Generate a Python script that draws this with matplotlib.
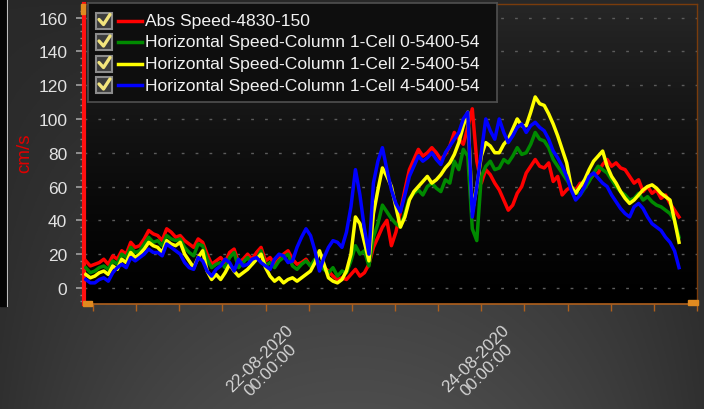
import numpy as np
import matplotlib
matplotlib.use("Agg")
import matplotlib.pyplot as plt
import matplotlib.dates as mdates
from matplotlib.patches import Rectangle

plt.rcParams['font.family'] = ['Liberation Sans', 'DejaVu Sans']

# hourly samples, 20-08-2020 08:00 .. 25-08-2020 20:00
times = np.datetime64('2020-08-20T08:00') + np.arange(133) * np.timedelta64(1, 'h')

abs_speed = [16, 13, 14, 15, 17, 14, 19, 17, 22, 20, 27, 24, 25, 29, 34, 32, 31, 28, 35, 33, 30, 31, 28, 26, 24, 29,
             27, 20, 14, 16, 18, 15, 21, 23, 15, 17, 20, 17, 21, 24, 16, 18, 14, 17, 20, 22, 17, 14,
             15, 17, 13, 16, 15, 12, 10, 7, 5, 6, 5, 8, 11, 7, 9, 14, 24, 30, 36, 40,
             25, 33, 45, 58, 70, 76, 82, 78, 80, 83, 80, 76, 79, 84, 92, 88, 85, 95, 106, 75,
             62, 70, 67, 62, 58, 52, 46, 49, 56, 60, 68, 72, 76, 72, 71, 74, 63, 66, 55, 58,
             60, 58, 62, 60, 64, 67, 68, 73, 76, 72, 74, 71, 70, 66, 62, 64, 57, 60, 56, 58, 53, 55, 50, 46, 42]
cell0 = [12, 9, 10, 12, 13, 11, 16, 14, 20, 18, 24, 21, 22, 26, 30, 27, 28, 25, 31, 29, 28, 29, 24, 21, 19, 26,
         25, 17, 12, 14, 15, 12, 18, 21, 12, 15, 18, 14, 17, 22, 13, 15, 12, 16, 18, 20, 13, 11,
         14, 16, 13, 17, 15, 11, 9, 12, 7, 10, 9, 16, 25, 20, 22, 13, 30, 38, 49, 45,
         41, 38, 36, 44, 53, 56, 58, 55, 60, 62, 59, 57, 64, 62, 75, 70, 82, 78, 35, 28,
         66, 72, 75, 70, 71, 76, 74, 78, 83, 79, 80, 85, 92, 88, 87, 83, 76, 72, 68, 64,
         60, 57, 55, 59, 63, 68, 72, 70, 68, 64, 60, 57, 55, 52, 53, 56, 52, 54, 51, 49, 48, 46, 44, 40, 30]
cell2 = [8, 6, 7, 9, 10, 8, 13, 11, 17, 15, 21, 18, 20, 23, 27, 25, 24, 21, 28, 26, 25, 27, 20, 16, 12, 18,
         22, 10, 5, 8, 5, 9, 14, 10, 7, 9, 11, 14, 17, 20, 12, 7, 4, 6, 3, 5, 6, 4,
         6, 8, 10, 15, 22, 14, 6, 4, 3, 5, 10, 20, 42, 38, 27, 16, 44, 58, 71, 66,
         60, 48, 36, 42, 52, 57, 60, 63, 66, 62, 64, 67, 71, 74, 79, 86, 96, 104, 45, 60,
         78, 86, 84, 80, 80, 85, 88, 94, 100, 96, 96, 104, 113, 109, 108, 103, 97, 90, 82, 74,
         60, 56, 60, 64, 70, 75, 78, 81, 72, 66, 62, 57, 53, 50, 52, 55, 58, 60, 61, 59, 56, 54, 52, 40, 27]
cell4 = [5, 3, 3, 5, 6, 4, 9, 12, 14, 12, 18, 16, 18, 20, 23, 21, 21, 19, 26, 24, 22, 20, 15, 12, 11, 18,
         16, 10, 7, 11, 13, 17, 15, 10, 17, 13, 14, 17, 18, 15, 13, 11, 17, 20, 19, 15, 16, 24,
         30, 35, 31, 22, 10, 18, 24, 28, 27, 24, 33, 48, 70, 55, 35, 20, 62, 75, 83, 70,
         58, 50, 45, 55, 66, 72, 78, 75, 77, 80, 76, 73, 80, 84, 88, 92, 100, 104, 42, 60,
         80, 100, 93, 88, 100, 92, 86, 90, 95, 97, 92, 96, 98, 95, 93, 88, 81, 77, 72, 66,
         58, 52, 55, 60, 66, 68, 65, 62, 60, 55, 51, 47, 44, 42, 48, 50, 47, 42, 38, 36, 34, 30, 27, 22, 12]

series_names = ["Abs Speed-4830-150",
                "Horizontal Speed-Column 1-Cell 0-5400-54",
                "Horizontal Speed-Column 1-Cell 2-5400-54",
                "Horizontal Speed-Column 1-Cell 4-5400-54"]
series_colors = ["#ff0000", "#008a00", "#ffff00", "#0000ff"]
y_ticks = [0, 20, 40, 60, 80, 100, 120, 140, 160]

W, H = 704, 410
fig = plt.figure(figsize=(W / 100, H / 100), dpi=100)

# dark gray window background, a bit lighter towards the bottom middle
yy, xx = np.mgrid[0:1:200j, 0:1:300j]
shade = 0.16 + 0.14 * yy * (1 - 0.8 * (2 * np.abs(xx - 0.5)) ** 2)
bg = fig.add_axes([0, 0, 1, 1], zorder=-10)
bg.imshow(np.dstack([shade] * 3), extent=[0, 1, 0, 1], aspect='auto')
bg.axis('off')
# edge of the neighbouring panel
bg.add_patch(Rectangle((0, 1 - 307 / H), 7 / W, 307 / H, color='#050505'))
bg.plot([7 / W, 7 / W], [1 - 307 / H, 1], color='#bdbdbd', lw=0.8)
bg.set_xlim(0, 1)
bg.set_ylim(0, 1)

left, right, top, bottom = 84, 697, 5, 305
ax = fig.add_axes([left / W, 1 - bottom / H, (right - left) / W, (bottom - top) / H])
ax.set_facecolor('none')
grad = 0.15 * (1 - np.linspace(0, 1, 100)) ** 1.3
ax.imshow(np.dstack([grad[:, None]] * 3), extent=[0, 1, 0, 1], transform=ax.transAxes,
          aspect='auto', zorder=0)

for vals, col in zip([abs_speed, cell0, cell2, cell4], series_colors):
    ax.plot(times, vals, color=col, lw=2.5, zorder=3)

ax.set_xlim(np.datetime64('2020-08-20T07:36'), np.datetime64('2020-08-25T20:30'))
ax.set_ylim(-9.5, 168)

for g in y_ticks:
    ax.axhline(g, color='#5c5c5c', lw=1.0, ls=(0, (2, 8)), zorder=1)

# x ticks every 9.6 h, labelled only at midnight of 22 and 24 August
t0 = np.datetime64('2020-08-22T00:00')
tick_times = t0 + np.arange(-4, 11) * np.timedelta64(576, 'm')
tick_labels = ["" for _ in tick_times]
tick_labels[4] = "22-08-2020\n00:00:00"
tick_labels[9] = "24-08-2020\n00:00:00"
ax.set_xticks(mdates.date2num(tick_times))
ax.set_xticklabels(tick_labels, rotation=45, ha='center', va='top', color='#d4d4d4',
                   fontsize=12.3, linespacing=1.0)
ax.tick_params(axis='x', direction='out', length=5, width=1, color='#b0601c', pad=8)

ax.set_yticks(y_ticks)
ax.set_yticks(np.arange(-8, 168, 4), minor=True)
ax.tick_params(axis='y', which='major', length=6, width=1.2, color='#a0a0a0',
               labelcolor='#e2e2e2', labelsize=12.5, pad=6)
ax.tick_params(axis='y', which='minor', length=3, width=1, color='#8a8a8a')
fig.text(25 / W, 1 - 153 / H, "cm/s", color='#e00000', fontsize=13.5, rotation=90,
         ha='center', va='center')

ax.spines['left'].set_color('#ff1010')
ax.spines['left'].set_linewidth(3)
ax.spines['bottom'].set_color('#b0601c')
ax.spines['bottom'].set_linewidth(1.2)
for s in ['top', 'right']:
    ax.spines[s].set_color('#7a3c0c')
    ax.spines[s].set_linewidth(1)

# scroll handles at the axis ends
for (x0, y0, w, h) in [(81, 5, 4, 10), (83, 302, 9, 5), (688, 301, 10, 5)]:
    fig.add_artist(Rectangle((x0 / W, 1 - (y0 + h) / H), w / W, h / H, color='#e08a20',
                             transform=fig.transFigure, zorder=10))

# legend with check boxes
lx0, lx1, ly0, ly1 = 88, 497, 4, 103
leg = fig.add_axes([lx0 / W, 1 - ly1 / H, (lx1 - lx0) / W, (ly1 - ly0) / H], zorder=20)
leg.set_xlim(lx0, lx1)
leg.set_ylim(ly1, ly0)
leg.set_facecolor('#0e0e0e')
leg.set_xticks([])
leg.set_yticks([])
for s in leg.spines.values():
    s.set_color('#505050')
    s.set_linewidth(1.2)
row_y = [21.5, 43, 64.5, 86]
for yc, name, col in zip(row_y, series_names, series_colors):
    leg.add_patch(Rectangle((96, yc - 8), 16, 16, facecolor='#3c3c3c', edgecolor='#8c8c8c', lw=1.5))
    leg.plot([99, 103.5, 110], [yc - 1, yc + 4, yc - 6], color='#f2e47c', lw=2.4,
             solid_capstyle='round')
    leg.plot([118, 142], [yc, yc], color=col, lw=2.5)
    leg.text(145, yc, name, color='#f2f2f2', fontsize=12.6, va='center', ha='left')

fig.savefig("out.png", dpi=100)
